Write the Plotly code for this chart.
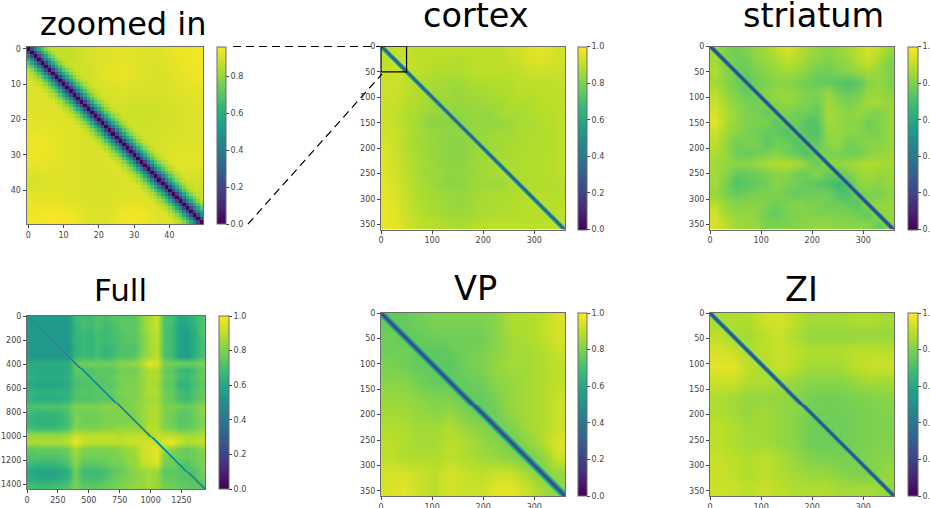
import plotly.graph_objects as go

W, H = 930, 508

# ---- data ----
ZOOM_BG = [
 [.89,.87,.87,.90,.91,.92,.91,.91,.93,.94],
 [.89,.89,.89,.89,.92,.93,.91,.90,.92,.94],
 [.91,.90,.89,.89,.90,.91,.90,.90,.91,.92],
 [.91,.91,.90,.89,.89,.89,.88,.89,.90,.91],
 [.92,.92,.91,.90,.89,.89,.89,.89,.90,.91],
 [.94,.93,.91,.90,.90,.89,.89,.90,.91,.91],
 [.93,.92,.91,.90,.91,.90,.89,.90,.92,.92],
 [.90,.91,.91,.90,.90,.91,.90,.89,.89,.89],
 [.92,.92,.91,.90,.90,.91,.91,.90,.89,.87],
 [.94,.95,.94,.91,.91,.94,.94,.91,.90,.88],
]
ZOOM_BAND = [0.0,.20,.42,.58,.70,.78,.84,.87]

CORTEX_BG = [
 [.90,.91,.91,.90,.90,.90,.90,.90,.90,.90,.90,.90,.92,.93,.95,.96,.95,.93],
 [.90,.92,.92,.91,.90,.89,.89,.88,.89,.90,.90,.90,.91,.92,.94,.95,.94,.93],
 [.92,.93,.91,.90,.89,.88,.88,.88,.89,.90,.90,.90,.90,.91,.92,.93,.92,.92],
 [.92,.93,.90,.89,.87,.87,.86,.85,.87,.88,.88,.88,.89,.90,.90,.90,.90,.91],
 [.92,.92,.90,.88,.87,.86,.86,.84,.86,.86,.87,.88,.88,.90,.89,.90,.90,.91],
 [.92,.92,.89,.88,.86,.84,.85,.84,.85,.85,.86,.86,.88,.88,.88,.89,.90,.90],
 [.92,.91,.88,.87,.85,.84,.83,.83,.84,.84,.84,.86,.87,.87,.88,.89,.89,.90],
 [.93,.91,.88,.86,.83,.82,.82,.82,.83,.84,.83,.84,.85,.87,.87,.88,.89,.90],
 [.93,.92,.89,.87,.85,.84,.83,.83,.84,.84,.85,.86,.86,.87,.88,.88,.89,.90],
 [.94,.92,.88,.86,.85,.83,.83,.82,.83,.85,.85,.86,.87,.87,.88,.88,.88,.90],
 [.95,.92,.89,.87,.85,.84,.83,.82,.83,.85,.86,.86,.87,.88,.88,.89,.89,.90],
 [.95,.93,.89,.87,.86,.84,.83,.82,.84,.85,.86,.87,.87,.88,.88,.88,.89,.90],
 [.95,.93,.90,.87,.85,.85,.83,.83,.84,.86,.86,.87,.88,.88,.88,.89,.89,.90],
 [.96,.94,.90,.88,.86,.84,.83,.82,.84,.85,.85,.85,.87,.87,.88,.88,.88,.89],
 [.96,.94,.91,.88,.87,.86,.85,.84,.85,.86,.87,.87,.88,.88,.89,.89,.89,.89],
 [.97,.95,.91,.89,.87,.86,.85,.84,.85,.87,.87,.88,.88,.89,.89,.89,.89,.90],
 [.97,.96,.92,.90,.88,.87,.86,.85,.86,.87,.88,.88,.88,.89,.89,.89,.89,.90],
 [.97,.96,.93,.91,.90,.89,.88,.87,.88,.89,.90,.90,.90,.90,.90,.90,.90,.90],
]
CORTEX_BAND = [.31,.33,.50,.74]

STRIATUM_BG = [
 [.86,.80,.78,.80,.84,.86,.90,.94,.90,.86,.84,.82,.84,.86,.90,.93,.90,.84],
 [.86,.80,.78,.78,.82,.84,.86,.90,.88,.84,.82,.80,.82,.84,.88,.92,.86,.80],
 [.88,.82,.78,.76,.80,.82,.84,.86,.84,.82,.78,.78,.80,.82,.84,.86,.84,.80],
 [.86,.82,.78,.74,.78,.80,.82,.82,.80,.78,.76,.76,.74,.72,.74,.82,.84,.80],
 [.90,.84,.80,.76,.78,.82,.84,.84,.82,.80,.80,.84,.78,.76,.78,.84,.84,.82],
 [.92,.86,.82,.80,.78,.80,.82,.84,.82,.80,.78,.86,.82,.80,.82,.86,.86,.84],
 [.94,.88,.84,.80,.80,.76,.80,.80,.78,.78,.76,.86,.84,.82,.84,.82,.80,.84],
 [.96,.88,.84,.80,.80,.80,.74,.78,.78,.72,.74,.86,.84,.82,.82,.78,.80,.84],
 [.92,.86,.82,.80,.78,.76,.76,.72,.76,.74,.72,.84,.84,.82,.82,.80,.80,.84],
 [.90,.84,.78,.80,.80,.74,.78,.78,.72,.76,.76,.82,.84,.78,.80,.82,.82,.84],
 [.88,.84,.78,.76,.78,.80,.82,.78,.76,.72,.78,.80,.80,.78,.78,.82,.84,.84],
 [.86,.84,.82,.83,.84,.87,.88,.89,.87,.82,.76,.83,.83,.85,.87,.88,.87,.86],
 [.86,.82,.76,.76,.78,.80,.82,.82,.78,.78,.82,.76,.76,.80,.84,.86,.84,.84],
 [.86,.80,.72,.74,.76,.78,.82,.80,.78,.76,.74,.72,.68,.72,.82,.84,.82,.84],
 [.84,.80,.76,.78,.80,.80,.80,.78,.76,.78,.78,.78,.72,.72,.78,.80,.80,.82],
 [.90,.84,.82,.82,.82,.80,.78,.80,.82,.80,.80,.78,.78,.76,.74,.82,.84,.84],
 [.94,.86,.84,.84,.82,.78,.76,.80,.80,.82,.80,.80,.80,.80,.78,.76,.82,.84],
 [.94,.90,.86,.84,.84,.80,.80,.80,.82,.82,.84,.84,.82,.82,.82,.82,.76,.82],
]
STRIATUM_BAND = [.20,.22,.42,.66]

FULL_BG = [
 [.54,.54,.54,.54,.54,.54,.68,.70,.68,.72,.70,.72,.74,.74,.74,.82,.88,.92,.72,.70,.60,.60,.66,.72],
 [.54,.54,.54,.54,.54,.54,.66,.70,.68,.72,.68,.70,.74,.74,.74,.82,.88,.92,.72,.68,.58,.58,.64,.72],
 [.54,.54,.54,.54,.54,.54,.66,.68,.66,.70,.68,.70,.72,.74,.74,.80,.86,.90,.72,.68,.58,.56,.62,.72],
 [.54,.54,.54,.54,.54,.54,.66,.68,.66,.70,.68,.70,.72,.74,.74,.80,.86,.90,.72,.68,.58,.56,.62,.70],
 [.54,.54,.53,.53,.53,.53,.64,.68,.66,.70,.66,.68,.72,.72,.72,.80,.86,.88,.72,.68,.58,.56,.62,.70],
 [.53,.53,.53,.53,.53,.53,.66,.68,.66,.70,.66,.68,.72,.72,.74,.82,.86,.90,.72,.68,.58,.56,.62,.70],
 [.62,.62,.62,.62,.62,.62,.76,.78,.78,.78,.78,.78,.82,.82,.84,.88,.96,.94,.80,.78,.78,.78,.78,.80],
 [.62,.60,.60,.60,.60,.62,.74,.74,.72,.74,.74,.74,.78,.78,.78,.84,.88,.88,.76,.74,.68,.66,.70,.76],
 [.64,.62,.62,.62,.62,.64,.72,.74,.74,.74,.74,.76,.80,.80,.80,.84,.88,.88,.78,.76,.70,.68,.72,.76],
 [.60,.58,.58,.58,.58,.62,.70,.72,.72,.74,.74,.74,.78,.80,.80,.84,.88,.86,.76,.74,.66,.64,.70,.74],
 [.66,.64,.64,.64,.64,.66,.72,.74,.72,.74,.74,.76,.80,.80,.80,.84,.88,.88,.78,.76,.70,.68,.72,.76],
 [.64,.62,.62,.62,.62,.66,.72,.72,.72,.74,.74,.74,.78,.80,.80,.84,.86,.86,.78,.76,.70,.68,.72,.76],
 [.72,.72,.72,.72,.72,.74,.80,.80,.80,.80,.82,.82,.80,.80,.82,.84,.88,.88,.80,.80,.78,.76,.78,.82],
 [.68,.66,.66,.66,.68,.72,.80,.78,.78,.78,.80,.80,.80,.80,.80,.84,.88,.88,.80,.78,.74,.74,.78,.82],
 [.66,.64,.64,.64,.66,.70,.80,.78,.78,.78,.80,.80,.80,.80,.80,.84,.88,.88,.80,.78,.74,.74,.76,.80],
 [.70,.68,.68,.68,.70,.72,.82,.80,.80,.80,.82,.82,.84,.84,.84,.82,.90,.88,.82,.80,.76,.76,.78,.82],
 [.84,.84,.84,.84,.84,.86,.92,.90,.90,.90,.90,.90,.88,.90,.90,.92,.86,.92,.90,.90,.88,.86,.86,.88],
 [.88,.88,.88,.88,.88,.90,.98,.92,.90,.90,.90,.90,.90,.92,.92,.92,.94,.90,.96,.98,.92,.88,.90,.90],
 [.74,.76,.76,.76,.76,.78,.86,.80,.80,.80,.80,.80,.82,.84,.86,.92,.94,.96,.86,.82,.78,.76,.78,.82],
 [.72,.72,.72,.72,.72,.76,.84,.78,.78,.78,.78,.80,.80,.84,.84,.92,.94,.96,.80,.78,.78,.76,.78,.80],
 [.68,.66,.66,.66,.68,.72,.82,.74,.74,.74,.76,.78,.78,.82,.84,.90,.92,.94,.78,.78,.74,.72,.76,.80],
 [.60,.58,.58,.58,.60,.64,.78,.68,.68,.68,.70,.74,.76,.80,.82,.84,.86,.84,.74,.74,.74,.72,.72,.78],
 [.62,.60,.60,.60,.62,.66,.78,.70,.70,.70,.72,.76,.78,.80,.82,.84,.86,.84,.76,.76,.74,.72,.72,.76],
 [.70,.68,.68,.70,.70,.72,.80,.74,.74,.74,.76,.78,.80,.82,.84,.84,.86,.84,.78,.78,.76,.76,.74,.74],
]
FULL_BAND = [.42,.56]

VP_BG = [
 [.76,.76,.78,.80,.80,.80,.80,.82,.88,.88,.90,.94],
 [.78,.76,.76,.78,.78,.78,.78,.82,.86,.88,.90,.94],
 [.78,.78,.76,.74,.76,.78,.80,.82,.86,.86,.88,.92],
 [.80,.78,.76,.76,.74,.78,.80,.84,.86,.86,.88,.90],
 [.82,.82,.78,.76,.76,.76,.78,.82,.84,.86,.88,.90],
 [.84,.84,.82,.80,.80,.76,.76,.80,.84,.86,.88,.92],
 [.86,.86,.84,.82,.84,.80,.76,.78,.84,.86,.88,.92],
 [.88,.88,.86,.86,.88,.84,.82,.78,.80,.86,.88,.92],
 [.90,.88,.86,.86,.90,.88,.84,.82,.78,.82,.88,.95],
 [.90,.88,.88,.88,.90,.88,.86,.84,.82,.78,.82,.92],
 [.94,.94,.92,.90,.94,.92,.90,.92,.92,.86,.80,.84],
 [.94,.96,.92,.90,.94,.92,.92,.96,.96,.92,.86,.82],
]
VP_BAND = [.22,.25,.38,.54,.64,.72]

ZI_BG = [
 [.88,.88,.88,.92,.94,.90,.86,.86,.86,.88,.88,.86],
 [.90,.88,.86,.90,.92,.88,.84,.84,.84,.84,.84,.84],
 [.94,.92,.88,.90,.92,.90,.88,.88,.88,.90,.90,.90],
 [.96,.96,.90,.88,.92,.90,.86,.86,.86,.90,.92,.92],
 [.92,.92,.88,.88,.86,.84,.82,.82,.82,.84,.86,.86],
 [.88,.86,.84,.84,.84,.82,.79,.78,.79,.80,.81,.82],
 [.88,.86,.84,.86,.84,.82,.79,.78,.78,.79,.80,.81],
 [.90,.88,.86,.86,.84,.82,.78,.77,.78,.79,.80,.80],
 [.90,.88,.86,.86,.84,.82,.78,.77,.78,.79,.80,.81],
 [.92,.90,.88,.90,.88,.84,.81,.80,.79,.79,.81,.82],
 [.92,.90,.88,.90,.88,.86,.84,.84,.82,.80,.80,.84],
 [.92,.92,.90,.92,.90,.88,.88,.88,.86,.86,.86,.84],
]
ZI_BAND = [.23,.26,.46,.68]

TICKS_360_X = [0, 100, 200, 300]
TICKS_360_Y = [0, 50, 100, 150, 200, 250, 300, 350]
TICKS_50 = [0, 10, 20, 30, 40]
TICKS_FULL_X = [0, 250, 500, 750, 1000, 1250]
TICKS_FULL_Y = [0, 200, 400, 600, 800, 1000, 1200, 1400]
CB_TICKS = [0.0, 0.2, 0.4, 0.6, 0.8, 1.0]
CB_TICKS_ZOOM = [0.0, 0.2, 0.4, 0.6, 0.8]

# name, extent, bg, band, band cells, zmax, box px (l, r, t, b), cb px (l, r), xticks, yticks, cb ticks
PANELS = [
 ("zoomed in", 50, ZOOM_BG, ZOOM_BAND, 50, .957, (26.5, 203, 47, 224), (216.5, 225.5), TICKS_50, TICKS_50, CB_TICKS_ZOOM),
 ("cortex", 360, CORTEX_BG, CORTEX_BAND, 184, 1.0, (381, 565, 46.5, 229.5), (578, 587), TICKS_360_X, TICKS_360_Y, CB_TICKS),
 ("striatum", 360, STRIATUM_BG, STRIATUM_BAND, 184, 1.0, (710, 894, 46.5, 229.5), (907.5, 917), TICKS_360_X, TICKS_360_Y, CB_TICKS),
 ("Full", 1440, FULL_BG, FULL_BAND, 178, 1.0, (27, 205, 316, 489), (219, 229), TICKS_FULL_X, TICKS_FULL_Y, CB_TICKS),
 ("VP", 360, VP_BG, VP_BAND, 184, 1.0, (381, 565, 313, 496), (578, 587), TICKS_360_X, TICKS_360_Y, CB_TICKS),
 ("ZI", 360, ZI_BG, ZI_BAND, 184, 1.0, (710, 894, 313, 496), (907.5, 917), TICKS_360_X, TICKS_360_Y, CB_TICKS),
]
TITLES = [
 ("zoomed in", 123.5, 24, 32),
 ("cortex", 476.5, 16, 33.5),
 ("striatum", 813, 16, 33.5),
 ("Full", 120, 290, 31),
 ("VP", 475, 288, 33.5),
 ("ZI", 801, 289, 33.5),
]

FONT = "DejaVu Sans"
TICKC = "#444444"
SPINE = "#6b6b6b"

fig = go.Figure()
layout = {}
for i, (name, ext, bg, band, ncell, zmax, box, cb, xt, yt, cbt) in enumerate(PANELS):
    l, r, t, b = box
    suf = "" if i == 0 else str(i + 1)
    lo = -0.5 if ext <= 50 else 0
    step = ext / len(bg)
    centers = [(k + .5) * step + lo for k in range(len(bg))]
    cbl, cbr = cb
    fig.add_trace(go.Heatmap(
        z=bg, x=centers, y=centers, xaxis="x" + suf, yaxis="y" + suf,
        colorscale="Viridis", zmin=0, zmax=zmax, zsmooth="best", hoverinfo="skip",
        colorbar=dict(
            x=cbl / W, xanchor="left", xpad=0, y=1 - t / H, yanchor="top", ypad=0,
            lenmode="fraction", len=(b - t) / H, thicknessmode="pixels", thickness=cbr - cbl,
            outlinewidth=1, outlinecolor=SPINE, ticks="outside", ticklen=3, tickwidth=1, tickcolor=TICKC,
            tickvals=cbt, ticktext=[f"{v:.1f}" for v in cbt],
            tickfont=dict(family=FONT, size=8, color=TICKC),
        ),
    ))
    # diagonal band drawn from its typed profile
    cstep = ext / ncell
    cc = [(k + .5) * cstep + lo for k in range(ncell)]
    zb = [[band[abs(p - q)] if abs(p - q) < len(band) else None for q in range(ncell)] for p in range(ncell)]
    fig.add_trace(go.Heatmap(
        z=zb, x=cc, y=cc, xaxis="x" + suf, yaxis="y" + suf, showscale=False,
        colorscale="Viridis", zmin=0, zmax=zmax, hoverinfo="skip",
    ))
    rng = [lo, lo + ext]
    common = dict(showline=True, linecolor=SPINE, linewidth=1, mirror=True, showgrid=False, zeroline=False,
                  ticks="outside", ticklen=3, tickwidth=1, tickcolor=TICKC,
                  tickfont=dict(family=FONT, size=8, color=TICKC))
    layout["xaxis" + suf] = dict(domain=[l / W, r / W], range=rng, anchor="y" + suf,
                                 tickvals=xt, ticktext=[str(v) for v in xt], **common)
    layout["yaxis" + suf] = dict(domain=[1 - b / H, 1 - t / H], range=rng[::-1], anchor="x" + suf,
                                 tickvals=yt, ticktext=[str(v) for v in yt], **common)

annotations = [dict(text=s, x=x / W, y=1 - y / H, xref="paper", yref="paper", xanchor="center", yanchor="middle",
                    showarrow=False, borderpad=0, font=dict(family=FONT, size=sz, color="black"))
               for s, x, y, sz in TITLES]

line = dict(color="black", width=1.2, dash="8px,5px")
shapes = [
    dict(type="rect", xref="x2", yref="y2", x0=0, x1=50, y0=0, y1=50, line=dict(color="black", width=1.2)),
    dict(type="line", xref="paper", yref="paper", x0=233 / W, x1=380 / W, y0=1 - 46.5 / H, y1=1 - 46.5 / H, line=line),
    dict(type="line", xref="paper", yref="paper", x0=248 / W, x1=382 / W, y0=1 - 224 / H, y1=1 - 74 / H, line=line),
]

fig.update_layout(width=W, height=H, margin=dict(l=0, r=0, t=0, b=0, autoexpand=False), paper_bgcolor="white", plot_bgcolor="white",
                  showlegend=False, annotations=annotations, shapes=shapes, **layout)
fig.write_html("out.html", config={"displayModeBar": False},
               post_script="document.body.style.margin='0';document.documentElement.style.overflow='hidden';")
